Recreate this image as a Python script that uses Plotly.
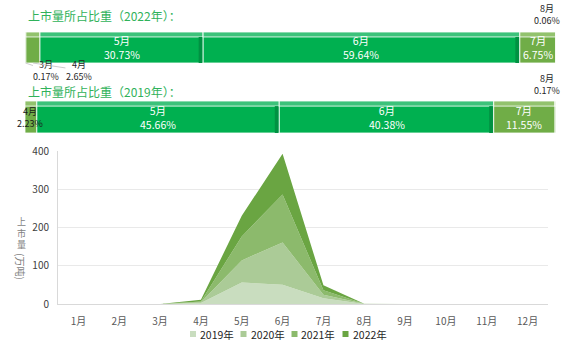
import plotly.graph_objects as go

W, H = 577, 361
FONT = "Noto Sans CJK SC, Noto Sans, sans-serif"

# ---------------- data ----------------
months = ["1月", "2月", "3月", "4月", "5月", "6月", "7月", "8月", "9月", "10月", "11月", "12月"]
years = ["2019年", "2020年", "2021年", "2022年"]
v2019 = [0, 0, 0, 2.8, 56.5, 50, 15, 0.2, 0, 0, 0, 0]
v2020 = [0, 0, 0, 1.5, 57.5, 111, 9, 0.2, 0, 0, 0, 0]
v2021 = [0, 0, 0, 2.0, 62.7, 125, 12, 0.2, 0, 0, 0, 0]
v2022 = [0, 0, 0.3, 4.7, 54, 107, 13, 0.1, 0, 0, 0, 0]
y_ticks = [0, 100, 200, 300, 400]

share_months_2022 = ["3月", "4月", "5月", "6月", "7月", "8月"]
share_2022 = [0.17, 2.65, 30.73, 59.64, 6.75, 0.06]
share_months_2019 = ["4月", "5月", "6月", "7月", "8月"]
share_2019 = [2.23, 45.66, 40.38, 11.55, 0.17]

# ---------------- styles ----------------
area_colors = ["#c9ddbf", "#abcb97", "#8cba6c", "#6aa542"]
GREEN, GREEN_TOP, GREEN_SIDE = "#00b050", "#3cc27a", "#009142"
OLIVE, OLIVE_TOP, OLIVE_SIDE = "#70ad47", "#92c26d", "#5e9a39"
LIGHT, LIGHT_TOP = "#a9d08e", "#c2dead"
TITLE_C = "#30b25a"


def px(x):
    return x / W


def py(y):
    return 1 - y / H


fig = go.Figure()

# ---------------- stacked area chart ----------------
for name, vals, col in zip(years, [v2019, v2020, v2021, v2022], area_colors):
    fig.add_trace(go.Scatter(
        x=months, y=vals, name=name, stackgroup="one", mode="none",
        fillcolor=col, line=dict(width=0), showlegend=False,
        xaxis="x", yaxis="y"))


# ---------------- share bars ----------------
def seg_colors(m):
    if m in ("5月", "6月"):
        return GREEN, GREEN_TOP, GREEN_SIDE
    if m == "8月":
        return LIGHT, LIGHT_TOP, None
    return OLIVE, OLIVE_TOP, None


def add_share_bar(mlist, shares, xa, ya):
    base = 0.0
    info = []
    for m, s in zip(mlist, shares):
        body, top, side = seg_colors(m)
        fig.add_trace(go.Bar(
            x=[s], y=[0], base=[base], orientation="h", width=[1.0], offset=[-0.5],
            marker=dict(color=body, line=dict(color="white", width=0.8)),
            xaxis=xa, yaxis=ya, showlegend=False, hoverinfo="skip"))
        fig.add_trace(go.Bar(
            x=[s], y=[0], base=[base], orientation="h", width=[0.16], offset=[0.34],
            marker=dict(color=top, line=dict(color="white", width=0.8)),
            xaxis=xa, yaxis=ya, showlegend=False, hoverinfo="skip"))
        if side is not None:
            sw = 0.7
            fig.add_trace(go.Bar(
                x=[sw], y=[0], base=[base + s - sw - 0.15], orientation="h",
                width=[0.84], offset=[-0.5],
                marker=dict(color=side, line=dict(width=0)),
                xaxis=xa, yaxis=ya, showlegend=False, hoverinfo="skip"))
        info.append((m, s, base))
        base += s
    return info


info22 = add_share_bar(share_months_2022, share_2022, "x2", "y2")
info19 = add_share_bar(share_months_2019, share_2019, "x3", "y3")

annotations = []

# titles
annotations.append(dict(xref="paper", yref="paper", x=px(26), y=py(15),
                        xanchor="left", yanchor="middle", showarrow=False,
                        text="上市量所占比重（2022年）：",
                        font=dict(family=FONT, size=12, color=TITLE_C)))
annotations.append(dict(xref="paper", yref="paper", x=px(26), y=py(91),
                        xanchor="left", yanchor="middle", showarrow=False,
                        text="上市量所占比重（2019年）：",
                        font=dict(family=FONT, size=12, color=TITLE_C)))


def fmt(s):
    return f"{s:.2f}%"


# 2022 labels
for m, s, b in info22:
    c = b + s / 2
    if m in ("5月", "6月", "7月"):
        annotations.append(dict(xref="x2", yref="y2", x=c, y=0, showarrow=False,
                                xanchor="center", yanchor="middle",
                                text=f"{m}<br>{fmt(s)}",
                                font=dict(family=FONT, size=10.5, color="white")))
    elif m == "3月":
        annotations.append(dict(xref="x2", yref="y2", x=c, y=-0.5, showarrow=True,
                                ax=21, ay=7, arrowhead=0, arrowwidth=0.8,
                                arrowcolor="#bfbfbf", standoff=0, borderpad=0,
                                text=f"{m}<br>{fmt(s)}",
                                font=dict(family=FONT, size=9, color="#262626")))
    elif m == "4月":
        annotations.append(dict(xref="x2", yref="y2", x=c, y=-0.5, showarrow=True,
                                ax=46, ay=7, arrowhead=0, arrowwidth=0.8,
                                arrowcolor="#bfbfbf", standoff=0, borderpad=0,
                                text=f"{m}<br>{fmt(s)}",
                                font=dict(family=FONT, size=9, color="#262626")))
    elif m == "8月":
        annotations.append(dict(xref="x2", yref="y2", x=c, y=0.5, showarrow=False,
                                xshift=-9, yshift=4, xanchor="center",
                                yanchor="bottom", borderpad=0,
                                text=f"{m}<br>{fmt(s)}",
                                font=dict(family=FONT, size=9, color="#262626")))

# 2019 labels
for m, s, b in info19:
    c = b + s / 2
    if m in ("5月", "6月", "7月"):
        annotations.append(dict(xref="x3", yref="y3", x=c, y=0, showarrow=False,
                                xanchor="center", yanchor="middle",
                                text=f"{m}<br>{fmt(s)}",
                                font=dict(family=FONT, size=10.5, color="white")))
    elif m == "4月":
        annotations.append(dict(xref="x3", yref="y3", x=c, y=0, showarrow=False,
                                xshift=-1, borderpad=0, xanchor="center",
                                yanchor="middle",
                                text=f"{m}<br>{fmt(s)}",
                                font=dict(family=FONT, size=9, color="#1a1a1a")))
    elif m == "8月":
        annotations.append(dict(xref="x3", yref="y3", x=c, y=0.5, showarrow=False,
                                xshift=-9, yshift=3, xanchor="center",
                                yanchor="bottom", borderpad=0,
                                text=f"{m}<br>{fmt(s)}",
                                font=dict(family=FONT, size=9, color="#262626")))

# y axis title (vertical)
annotations.append(dict(xref="paper", yref="paper", x=px(21), y=py(233),
                        xanchor="center", yanchor="middle",
                        showarrow=False, text="上<br>市<br>量", borderpad=0,
                        font=dict(family=FONT, size=9, color="#7f7f7f")))
annotations.append(dict(xref="paper", yref="paper", x=px(21), y=py(266),
                        xanchor="center", yanchor="middle",
                        showarrow=False, text="(万吨)", textangle=90, borderpad=0,
                        font=dict(family=FONT, size=10, color="#7f7f7f")))

# manual legend
shapes = []
leg_x = [190, 240.5, 291.5, 342.5]
for name, col, lx in zip(years, area_colors, leg_x):
    shapes.append(dict(type="rect", xref="paper", yref="paper",
                       x0=px(lx), x1=px(lx + 6), y0=py(337), y1=py(331),
                       fillcolor=col, line=dict(width=0)))
    annotations.append(dict(xref="paper", yref="paper", x=px(lx + 8), y=py(334),
                            xanchor="left", yanchor="middle", showarrow=False,
                            text=name,
                            font=dict(family=FONT, size=10.5, color="#262626")))

fig.update_layout(
    width=W, height=H, autosize=False,
    margin=dict(l=0, r=0, t=0, b=0, pad=0, autoexpand=False),
    paper_bgcolor="white", plot_bgcolor="white",
    barmode="overlay",
    showlegend=False,
    font=dict(family=FONT),
    annotations=annotations,
    shapes=shapes,
    xaxis=dict(domain=[px(58), px(548)], type="category", range=[-0.5, 11.5],
               showline=True, linecolor="#d9d9d9", linewidth=1, ticks="",
               showgrid=False, zeroline=False, ticklabelstandoff=8, automargin=False,
               tickfont=dict(family=FONT, size=10, color="#595959"), anchor="y"),
    yaxis=dict(domain=[py(304), py(151)], range=[0, 400], tickvals=y_ticks,
               showline=True, linecolor="#d9d9d9", linewidth=1,
               showgrid=True, gridcolor="#e9e9e9", gridwidth=1, zeroline=False,
               ticks="", ticklabelstandoff=6, automargin=False,
               tickfont=dict(family=FONT, size=10, color="#404040"), anchor="x"),
    xaxis2=dict(domain=[px(25), px(556)], range=[0, 100], visible=False,
                automargin=False, anchor="y2"),
    yaxis2=dict(domain=[py(63), py(32)], range=[-0.5, 0.5], visible=False,
                automargin=False, anchor="x2"),
    xaxis3=dict(domain=[px(25), px(556)], range=[0, 100], visible=False,
                automargin=False, anchor="y3"),
    yaxis3=dict(domain=[py(133), py(101)], range=[-0.5, 0.5], visible=False,
                automargin=False, anchor="x3"),
)

fig.write_html("out.html",
               config={"displayModeBar": False, "responsive": False},
               post_script="document.body.style.margin='0px';"
                           "document.body.style.overflow='hidden';")
